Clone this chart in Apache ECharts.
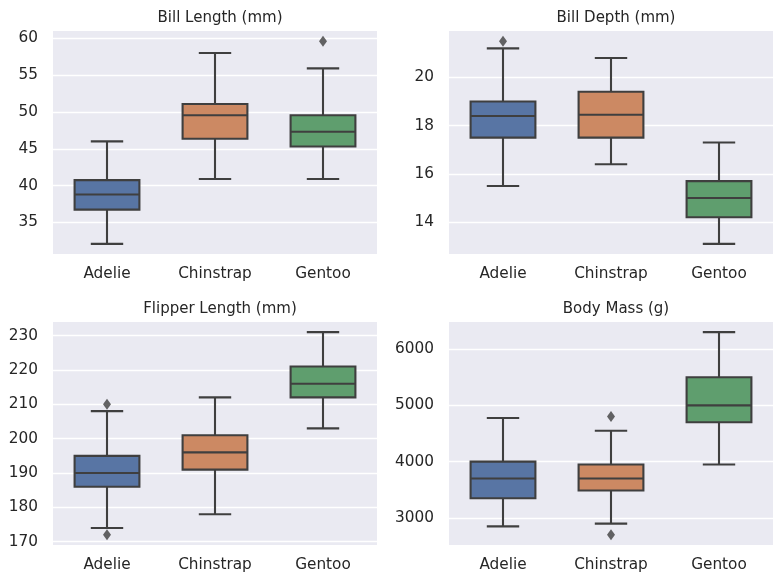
<!DOCTYPE html>
<html>
<head>
<meta charset="utf-8">
<script src="https://cdn.jsdelivr.net/npm/echarts@6/dist/echarts.min.js"></script>
<style>html,body{margin:0;padding:0;background:#fff}#c{width:784px;height:584px}</style>
</head>
<body>
<div id="c"></div>
<script>
// ---- data ----
const species = ['Adelie', 'Chinstrap', 'Gentoo'];
const panelTitles = ['Bill Length (mm)', 'Bill Depth (mm)', 'Flipper Length (mm)', 'Body Mass (g)'];

// [lower whisker, Q1, median, Q3, upper whisker]
const billLengthStats = [[32.1, 36.75, 38.8, 40.75, 46.0], [40.9, 46.35, 49.55, 51.075, 58.0], [40.9, 45.3, 47.3, 49.55, 55.9]];
const billLengthOutliers = [[2, 59.6]];
const billLengthRange = [30.725, 60.975];

const billDepthStats = [[15.5, 17.5, 18.4, 19.0, 21.2], [16.4, 17.5, 18.45, 19.4, 20.8], [13.1, 14.2, 15.0, 15.7, 17.3]];
const billDepthOutliers = [[0, 21.5]];
const billDepthRange = [12.68, 21.92];

const flipperStats = [[174, 186, 190, 195, 208], [178, 191, 196, 201, 212], [203, 212, 216, 221, 231]];
const flipperOutliers = [[0, 210], [0, 172]];
const flipperRange = [169.05, 233.95];

const massStats = [[2850, 3350, 3700, 4000, 4775], [2900, 3487.5, 3700, 3950, 4550], [3950, 4700, 5000, 5500, 6300]];
const massOutliers = [[1, 4800], [1, 2700]];
const massRange = [2520, 6480];

// ---- styling ----
const FONT = 'DejaVu Sans';
const TEXT = '#262626';
const LINE = '#3f3f3f';
const LW = 2.1;
const BG = '#EAEAF2';
const boxColors = ['#5875A4', '#CC8963', '#5F9E6E'];

const panels = [
  {stats: billLengthStats, out: billLengthOutliers, range: billLengthRange},
  {stats: billDepthStats, out: billDepthOutliers, range: billDepthRange},
  {stats: flipperStats, out: flipperOutliers, range: flipperRange},
  {stats: massStats, out: massOutliers, range: massRange}
];
const gridPos = [
  {left: 53, top: 31}, {left: 449, top: 31},
  {left: 53, top: 322}, {left: 449, top: 322}
];
const GW = 324, GH = 223;

function renderBox(params, api) {
  const x = api.value(0);
  const lo = api.coord([x, api.value(1)]);
  const q1 = api.coord([x, api.value(2)]);
  const md = api.coord([x, api.value(3)]);
  const q3 = api.coord([x, api.value(4)]);
  const hi = api.coord([x, api.value(5)]);
  const bw = api.size([1, 0])[0] * 0.6;
  const cw = bw / 2;
  const cx = lo[0];
  const ls = {stroke: LINE, lineWidth: LW, fill: null};
  return {
    type: 'group',
    children: [
      {type: 'line', shape: {x1: cx, y1: hi[1], x2: cx, y2: q3[1]}, style: ls},
      {type: 'line', shape: {x1: cx, y1: q1[1], x2: cx, y2: lo[1]}, style: ls},
      {type: 'line', shape: {x1: cx - cw / 2, y1: hi[1], x2: cx + cw / 2, y2: hi[1]}, style: ls},
      {type: 'line', shape: {x1: cx - cw / 2, y1: lo[1], x2: cx + cw / 2, y2: lo[1]}, style: ls},
      {type: 'rect', shape: {x: cx - bw / 2, y: q3[1], width: bw, height: q1[1] - q3[1]},
        style: {fill: boxColors[x], stroke: LINE, lineWidth: LW}},
      {type: 'line', shape: {x1: cx - bw / 2, y1: md[1], x2: cx + bw / 2, y2: md[1]}, style: ls}
    ]
  };
}

const option = {
  animation: false,
  backgroundColor: '#ffffff',
  textStyle: {fontFamily: FONT, color: TEXT},
  title: panelTitles.map((t, i) => ({
    text: t,
    left: gridPos[i].left + GW / 2,
    top: gridPos[i].top - 25,
    textAlign: 'center',
    textStyle: {fontFamily: FONT, fontSize: 15, fontWeight: 'normal', color: TEXT}
  })),
  grid: gridPos.map(g => ({
    left: g.left, top: g.top, width: GW, height: GH,
    show: true, backgroundColor: BG, borderWidth: 0, containLabel: false
  })),
  xAxis: panels.map((p, i) => ({
    type: 'category', gridIndex: i, data: species,
    axisLine: {show: false}, axisTick: {show: false}, splitLine: {show: false},
    axisLabel: {fontFamily: FONT, fontSize: 15.3, color: TEXT, margin: 13}
  })),
  yAxis: panels.map((p, i) => ({
    type: 'value', gridIndex: i, min: p.range[0], max: p.range[1], splitNumber: 5,
    axisLine: {show: false}, axisTick: {show: false},
    splitLine: {show: true, showMinLine: false, showMaxLine: false, lineStyle: {color: '#ffffff', width: 1.3}},
    axisLabel: {fontFamily: FONT, fontSize: 15.3, color: TEXT, margin: 15, showMinLabel: false, showMaxLabel: false,
      formatter: v => String(v)}
  })),
  series: []
};

panels.forEach((p, i) => {
  option.series.push({
    type: 'custom', xAxisIndex: i, yAxisIndex: i,
    renderItem: renderBox,
    data: p.stats.map((s, k) => [k].concat(s)),
    z: 3
  });
  option.series.push({
    type: 'scatter', xAxisIndex: i, yAxisIndex: i,
    symbol: 'diamond', symbolSize: [8, 11],
    itemStyle: {color: LINE},
    data: p.out,
    z: 4
  });
});

const chart = echarts.init(document.getElementById('c'), null, {renderer: 'canvas'});
chart.setOption(option);
</script>
</body>
</html>
